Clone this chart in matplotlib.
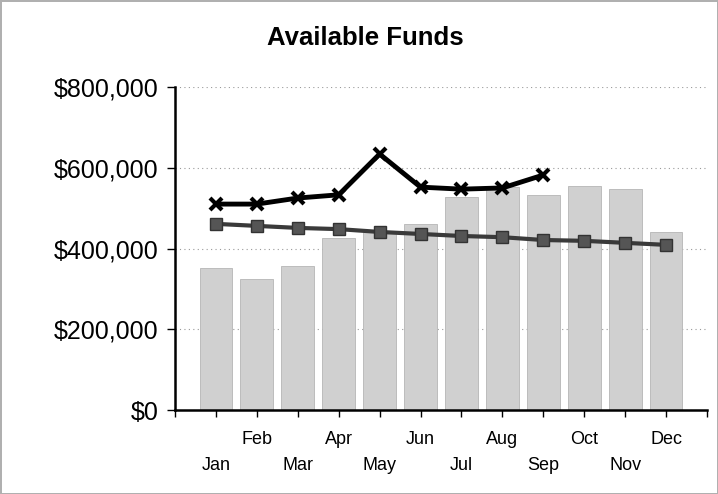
import matplotlib.pyplot as plt
import numpy as np

plt.rcParams['font.family'] = ['Liberation Sans', 'DejaVu Sans']

months = ["Jan", "Feb", "Mar", "Apr", "May", "Jun", "Jul", "Aug", "Sep", "Oct", "Nov", "Dec"]
funds = [352000, 325000, 357000, 426000, 440000, 461000, 528000, 552000, 532000, 555000, 548000, 441000]
actual = [510000, 510000, 525000, 533000, 634000, 552000, 547000, 550000, 582000]
trend = [461000, 456000, 451000, 448000, 441000, 436000, 431000, 428000, 421000, 419000, 414000, 409000]

fig = plt.figure(figsize=(7.18, 4.94), dpi=100)
fig.patch.set_edgecolor("#b0b0b0")
fig.patch.set_linewidth(1.0)
ax = fig.add_axes([175 / 718, 1 - 410 / 494, 532 / 718, 323 / 494])

x = np.arange(len(months))
ax.bar(x, funds, width=0.8, color="#d0d0d0", edgecolor="#b5b5b5", linewidth=0.6, zorder=2)
ax.plot(x, trend, color="#3a3a3a", lw=3, marker="s", ms=8, mfc="#555555", mec="#333333", zorder=3)
ax.plot(x[:len(actual)], actual, color="black", lw=3.5, marker="x", ms=9, mew=3, zorder=4)

ax.set_xlim(-1, 12)
ax.set_ylim(0, 800000)
ax.set_yticks(np.arange(0, 800001, 200000))
ax.set_yticklabels(["${:,.0f}".format(v) for v in np.arange(0, 800001, 200000)], fontsize=18)
ax.yaxis.grid(True, linestyle=(0, (1, 3)), color="#999999", lw=0.8, zorder=0)

ticks = np.arange(-1, 13)
labels = [""] + months + [""]
ax.set_xticks(ticks)
ax.set_xticklabels(labels, fontsize=13)
for i, t in enumerate(ax.xaxis.get_major_ticks()):
    # alternate rows: Feb, Apr... on top row, Jan, Mar... below
    if (i - 1) % 2 == 1:
        t.set_pad(10)
    else:
        t.set_pad(29)

ax.tick_params(axis="x", direction="out", length=5, width=1)
ax.tick_params(axis="y", direction="out", length=6, width=1, pad=6)
for s in ["top", "right"]:
    ax.spines[s].set_visible(False)
ax.spines["left"].set_linewidth(1.8)
ax.spines["bottom"].set_linewidth(1.8)

fig.text(365 / 718, 1 - 38 / 494, "Available Funds", ha="center", va="center",
         fontsize=18.5, fontweight="bold")

plt.savefig("out.png", dpi=100)
